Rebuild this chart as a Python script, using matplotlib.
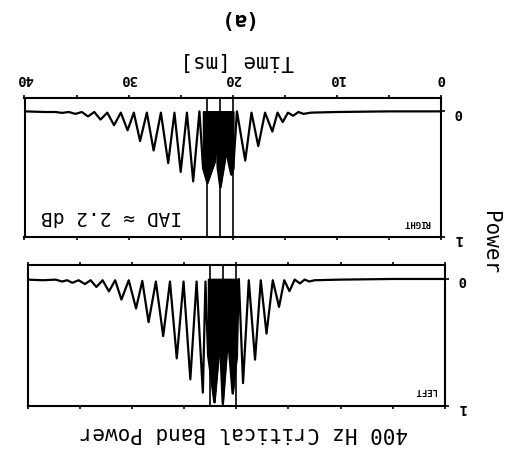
import numpy as np
import matplotlib
matplotlib.use("Agg")
import matplotlib.pyplot as plt

plt.rcParams['font.family'] = ['DejaVu Sans Mono']

# band power, right channel (time in ms, normalised power)
right_t = [0, 5, 10, 12.5, 13.2, 13.7, 14.2, 14.7, 15.2, 15.7, 16.2, 16.9, 17.55, 18.2,
           18.8, 19.6, 19.95, 20.15, 20.55, 20.65, 20.8, 21.2, 21.45, 21.6, 21.75,
           22.45, 22.85, 23.2, 23.8, 24.4,
           25.0, 25.6, 26.2, 26.9, 27.6, 28.25, 28.9, 29.5, 30.1, 30.75, 31.4, 32.05,
           32.7, 33.3, 33.9, 34.5, 35.1, 35.75, 36.4, 37.0, 38.0, 40.0]
right_v = [0.0, 0.0, 0.005, 0.01, 0.02, 0.005, 0.035, 0.01, 0.085, 0.01, 0.16, 0.01, 0.275, 0.01,
           0.39, 0.0, 0.45, 0.5, 0.35, 0.3, 0.4, 0.6, 0.45, 0.1, 0.4,
           0.565, 0.45, 0.0, 0.555, 0.01,
           0.48, 0.01, 0.41, 0.01, 0.31, 0.01, 0.235, 0.01, 0.15, 0.01, 0.11, 0.01,
           0.065, 0.005, 0.04, 0.005, 0.02, 0.005, 0.012, 0.005, 0.005, 0.0]

# band power, left channel
left_t = [0, 5, 10, 12.5, 13.0, 13.45, 13.9, 14.4, 14.9, 15.4, 15.9, 16.5, 17.1, 17.65,
          18.2, 18.8, 19.35, 19.75, 19.95, 20.35, 20.7, 20.8, 20.9, 21.3, 21.5, 21.6,
          21.7, 22.1, 22.7, 22.95,
          23.2, 23.8, 24.4, 25.05, 25.7, 26.35, 27.0, 27.7, 28.4, 29.0, 29.6, 30.3,
          31.0, 31.6, 32.2, 32.8, 33.4, 33.95, 34.5, 35.1, 35.7, 36.2, 36.7, 37.3, 38.5, 40.0]
left_v = [0.0, 0.0, 0.005, 0.01, 0.02, 0.005, 0.035, 0.005, 0.096, 0.01, 0.22, 0.01, 0.43, 0.01,
          0.635, 0.01, 0.82, 0.0, 0.6, 0.9, 0.55, 0.3, 0.55, 0.98, 0.6, 0.12,
          0.6, 0.97, 0.6, 0.02,
          0.895, 0.02, 0.79, 0.02, 0.625, 0.02, 0.45, 0.02, 0.34, 0.015, 0.232, 0.01,
          0.162, 0.01, 0.098, 0.01, 0.063, 0.01, 0.04, 0.01, 0.03, 0.01, 0.02, 0.005, 0.01, 0.005]

# analysis window markers and the shaded span
window_lines = [20.0, 21.25, 22.5]
right_span = (19.95, 22.85)
left_span = (19.95, 22.7)

W, H = 515, 465
fig = plt.figure(figsize=(W / 100, H / 100), dpi=100)


def px(x, y):
    return x / W, 1 - y / H


def panel(rect, t, v, span, tag, tag_xy, top_labels):
    ax = fig.add_axes(rect)
    t = np.array(t)
    v = np.array(v)
    ax.plot(t, v, color='black', linewidth=1.6, solid_joinstyle='round')
    mask = (t >= span[0]) & (t <= span[1])
    ax.fill_between(t, 0, v, where=mask, color='black', linewidth=1.2, edgecolor='black')
    for x in window_lines:
        ax.axvline(x, color='black', linewidth=1.2)
    ax.set_xlim(40, 0)
    ax.set_ylim(1, -0.11)
    for s in ax.spines.values():
        s.set_linewidth(1.5)
    ax.set_xticks([0, 10, 20, 30, 40])
    ax.set_xticks([5, 15, 25, 35], minor=True)
    ax.xaxis.set_ticks_position('both')
    ax.tick_params(axis='x', which='both', direction='out', length=2.5, width=1.2,
                   top=True, bottom=True, labelbottom=False, labeltop=top_labels,
                   labelrotation=180, labelsize=10, pad=6)
    ax.yaxis.tick_right()
    ax.set_yticks([0, 1])
    ax.tick_params(axis='y', direction='out', length=3, width=1.2, labelrotation=180,
                   labelsize=10, pad=6)
    for lab in ax.get_xticklabels() + ax.get_yticklabels():
        lab.set_fontweight('bold')
    fig.text(*px(*tag_xy), tag, rotation=180, fontsize=6.5, fontweight='bold',
             ha='center', va='center')
    return ax


ax_r = panel([24.5 / W, 1 - 237.5 / H, 416.5 / W, 140 / H], right_t, right_v, right_span,
             'RIGHT', (417, 222), True)
ax_l = panel([27.5 / W, 1 - 406 / H, 417.5 / W, 141 / H], left_t, left_v, left_span,
             'LEFT', (425, 390), False)

fig.text(*px(112, 216), 'IAD \u2248 2.2 dB', rotation=180, fontsize=14,
         ha='center', va='center')
fig.text(*px(233, 19), '(a)', rotation=180, fontsize=15, fontweight='bold',
         ha='center', va='center')
fig.text(*px(237, 61), 'Time [ms]', rotation=180, fontsize=15,
         ha='center', va='center')
fig.text(*px(244, 433), '400 Hz Critical Band Power', rotation=180, fontsize=15,
         ha='center', va='center')
fig.text(*px(490, 243), 'Power', rotation=270, fontsize=15,
         ha='center', va='center')

fig.savefig('out.png', dpi=100)
